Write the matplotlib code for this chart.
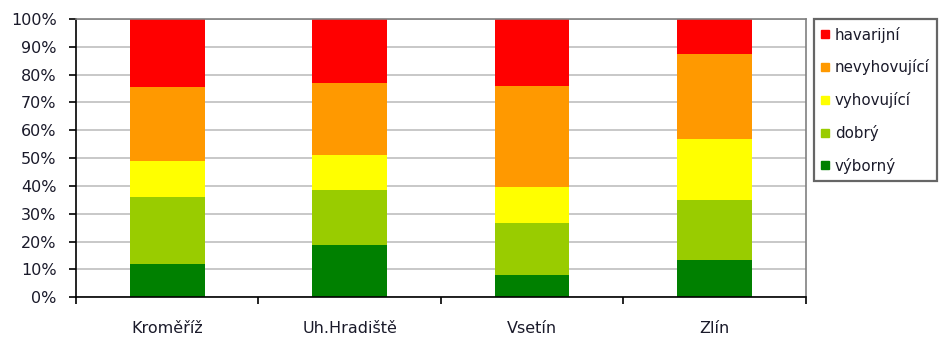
import matplotlib.pyplot as plt
import numpy as np
from matplotlib.lines import Line2D
from matplotlib.ticker import FixedLocator, PercentFormatter

plt.rcParams["font.family"] = ["DejaVu Sans"]

districts = ["Kroměříž", "Uh.Hradiště", "Vsetín", "Zlín"]
# share of each condition class per district, bottom to top (percent)
vyborny = [12.1, 18.7, 7.9, 13.3]
dobry = [24.0, 20.0, 18.6, 21.8]
vyhovujici = [12.9, 12.4, 13.0, 21.6]
nevyhovujici = [26.6, 25.8, 36.6, 30.6]
havarijni = [24.4, 23.1, 23.9, 12.7]

series = [
    ("výborný", vyborny, "#008000"),
    ("dobrý", dobry, "#99cc00"),
    ("vyhovující", vyhovujici, "#ffff00"),
    ("nevyhovující", nevyhovujici, "#ff9900"),
    ("havarijní", havarijni, "#ff0000"),
]

fig = plt.figure(figsize=(9.39, 3.40), dpi=100)
ax = fig.add_axes([0.081, 0.126, 0.777, 0.818])

x = np.arange(len(districts))
bottom = np.zeros(len(districts))
for name, vals, color in series:
    vals = np.asarray(vals)
    ax.bar(x, vals, width=0.41, bottom=bottom, color=color, label=name, zorder=2)
    bottom += vals

ax.set_xlim(-0.5, len(districts) - 0.5)
ax.set_ylim(0, 100)
ax.yaxis.set_major_locator(FixedLocator(np.arange(0, 101, 10)))
ax.yaxis.set_major_formatter(PercentFormatter(decimals=0))
ax.grid(axis="y", color="#c8c8c8", linewidth=1.4, zorder=0)

ax.set_xticks(x)
ax.set_xticklabels(districts)
ax.set_xticks(np.arange(-0.5, len(districts)), minor=True)
ax.tick_params(axis="x", which="major", length=0, pad=17, labelsize=11.5, colors="#1a1a2a")
ax.tick_params(axis="x", which="minor", length=5, width=1.2, direction="out")
ax.tick_params(axis="y", length=5, width=1.2, direction="out", pad=9,
               labelsize=11.5, colors="#1a1a2a")
ax.tick_params(axis="both", which="both", color="black")

for side in ("top", "right"):
    ax.spines[side].set_color("#808080")
    ax.spines[side].set_linewidth(1.2)
for side in ("left", "bottom"):
    ax.spines[side].set_color("black")
    ax.spines[side].set_linewidth(1.2)

handles = [Line2D([], [], marker="s", linestyle="none", markersize=6,
                  markerfacecolor=c, markeredgecolor=c) for _, _, c in series][::-1]
labels = [n for n, _, _ in series][::-1]
leg = ax.legend(handles, labels, loc="upper left", bbox_to_anchor=(1.011, 1.0),
                frameon=True, fancybox=False, edgecolor="#404040",
                fontsize=10.8, labelspacing=1.12, handlelength=0.5,
                handletextpad=0.4, borderpad=0.5, borderaxespad=0)
leg.get_frame().set_linewidth(1.6)
for t in leg.get_texts():
    t.set_color("#1a1a2a")

fig.savefig("out.png", dpi=100)
